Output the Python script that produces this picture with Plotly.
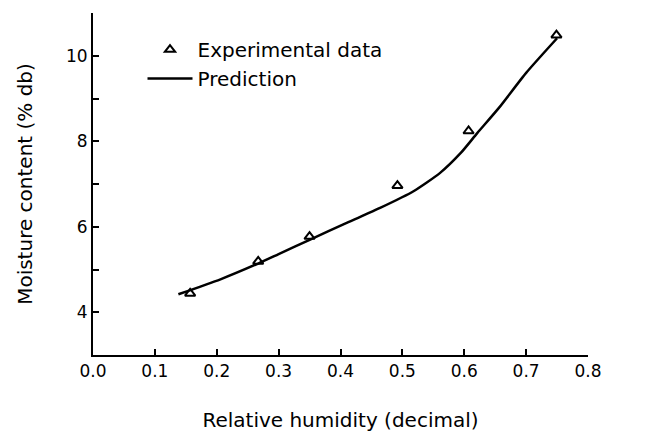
import plotly.graph_objects as go

# Experimental data
exp_rh = [0.157, 0.267, 0.350, 0.492, 0.607, 0.749]
exp_mc = [4.44, 5.19, 5.77, 6.96, 8.24, 10.48]

# Prediction curve
pred_rh = [0.138, 0.206, 0.267, 0.300, 0.351, 0.410, 0.464, 0.518, 0.561, 0.594, 0.621, 0.656, 0.700, 0.750]
pred_mc = [4.42, 4.77, 5.14, 5.36, 5.70, 6.09, 6.44, 6.83, 7.26, 7.72, 8.19, 8.78, 9.60, 10.41]

x_ticks = [0.0, 0.1, 0.2, 0.3, 0.4, 0.5, 0.6, 0.7, 0.8]
y_ticks = [4, 6, 8, 10]

FONT = "DejaVu Sans, sans-serif"

fig = go.Figure()
fig.add_trace(go.Scatter(
    x=exp_rh, y=exp_mc, mode="markers", name="Experimental data",
    marker=dict(symbol="triangle-up-open", size=9, color="black", line=dict(width=2, color="black")),
))
fig.add_trace(go.Scatter(
    x=pred_rh, y=pred_mc, mode="lines", name="Prediction",
    line=dict(color="black", width=2.5, shape="spline", smoothing=0.6),
))

fig.update_layout(
    width=650, height=432,
    margin=dict(l=93, r=62, t=13, b=77),
    paper_bgcolor="white", plot_bgcolor="white",
    font=dict(family=FONT, size=17, color="black"),
    showlegend=True,
    legend=dict(x=0.1, y=0.95, xanchor="left", yanchor="top",
                bgcolor="rgba(0,0,0,0)", font=dict(size=20, family=FONT),
                itemwidth=45, tracegroupgap=0),
    xaxis=dict(
        range=[0, 0.8], tickvals=x_ticks, ticktext=[f"{v:.1f}" for v in x_ticks],
        showline=True, linecolor="black", linewidth=2, mirror=False,
        ticks="inside", ticklen=6, tickwidth=1.5, tickcolor="black",
        showgrid=False, zeroline=False, automargin=False,
        title=dict(text="Relative humidity (decimal)", standoff=34, font=dict(size=20)),
    ),
    yaxis=dict(
        range=[3, 11], tickvals=y_ticks,
        showline=True, linecolor="black", linewidth=2, mirror=False,
        ticks="inside", ticklen=6, tickwidth=1.5, tickcolor="black",
        minor=dict(dtick=1, tick0=3, ticks="inside", ticklen=6, tickwidth=1.5, tickcolor="black"),
        showgrid=False, zeroline=False, automargin=False,
        title=dict(text="Moisture content (% db)", standoff=28, font=dict(size=20)),
    ),
)

fig.write_html("out.html")
